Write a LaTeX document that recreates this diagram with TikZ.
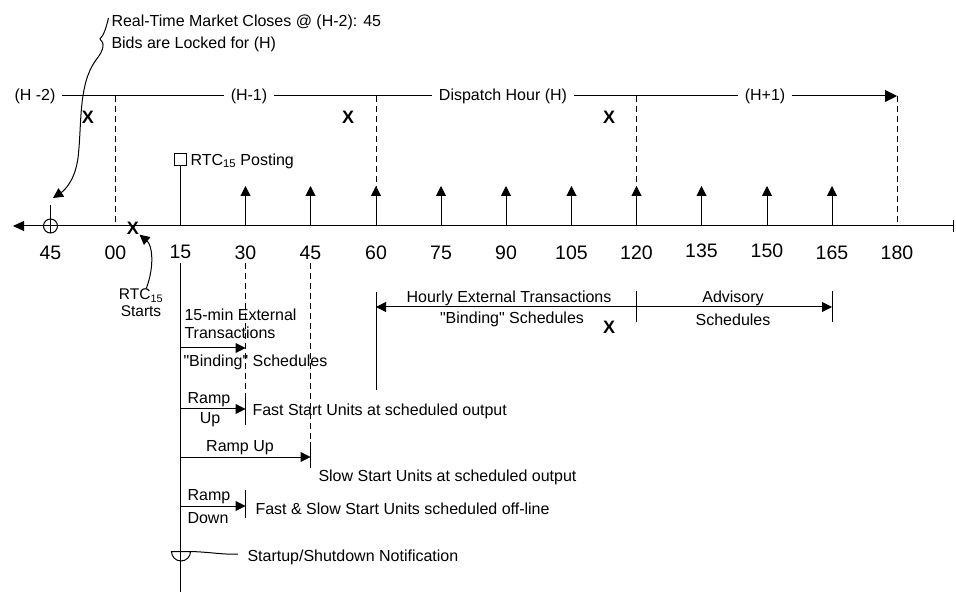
\documentclass[tikz,border=0pt]{standalone}
\usepackage{fontspec}
\setmainfont{Liberation Sans}
\usetikzlibrary{arrows.meta}

\begin{document}
\begin{tikzpicture}[x=1pt,y=-1pt,line width=1pt,
every node/.style={inner sep=0pt,font=\fontsize{16}{19}\selectfont},
arr/.style={-{Triangle[length=10pt,width=10pt]}},
ticklbl/.style={font=\fontsize{19.5}{22}\selectfont},
xmark/.style={font=\fontsize{18}{20}\selectfont\bfseries},
hourlbl/.style={inner sep=6pt},
dsh/.style={dash pattern=on 6pt off 4pt},
twoline/.style={align=center,font=\fontsize{15.5}{17}\selectfont}]
\useasboundingbox (0,0) rectangle (956,593);
\coordinate (axl) at (13,226);
\coordinate (axr) at (953,226);
\coordinate (m45) at (50.5,226);
\coordinate (t00) at (115.5,226);
\coordinate (t15) at (180.5,226);
\coordinate (t30) at (245.5,226);
\coordinate (t45) at (310.5,226);
\coordinate (t60) at (376,226);
\coordinate (t75) at (441,226);
\coordinate (t90) at (506,226);
\coordinate (t105) at (571.5,226);
\coordinate (t120) at (636.5,226);
\coordinate (t135) at (701.5,226);
\coordinate (t150) at (767,226);
\coordinate (t165) at (832,226);
\coordinate (t180) at (897,226);
\draw [{Triangle[length=11pt,width=10pt]}-] (axl) -- (axr);
\draw ([yshift=6pt]axr) -- ([yshift=-6pt]axr);
\node [ticklbl] (l45) at (50.5,253) {45};
\node [ticklbl] (l00) at (115.5,253) {00};
\node [ticklbl] (l15) at (180.5,252) {15};
\node [ticklbl] (l30) at (245.5,253) {30};
\node [ticklbl] (l45b) at (310.5,253) {45};
\node [ticklbl] (l60) at (376,253) {60};
\node [ticklbl] (l75) at (441,253) {75};
\node [ticklbl] (l90) at (506,253) {90};
\node [ticklbl] (l105) at (571.5,253) {105};
\node [ticklbl] (l120) at (636.5,253) {120};
\node [ticklbl] (l135) at (701.5,251) {135};
\node [ticklbl] (l150) at (767,251) {150};
\node [ticklbl] (l165) at (832,253) {165};
\node [ticklbl] (l180) at (897,253) {180};
\coordinate (uptop) at (0,186);
\draw [arr] (t30) -- (t30 |- uptop);
\draw [arr] (t45) -- (t45 |- uptop);
\draw [arr] (t60) -- (t60 |- uptop);
\draw [arr] (t75) -- (t75 |- uptop);
\draw [arr] (t90) -- (t90 |- uptop);
\draw [arr] (t105) -- (t105 |- uptop);
\draw [arr] (t120) -- (t120 |- uptop);
\draw [arr] (t135) -- (t135 |- uptop);
\draw [arr] (t150) -- (t150 |- uptop);
\draw [arr] (t165) -- (t165 |- uptop);
\node [draw,minimum size=12pt] (post) at (180.5,160) {};
\draw (t15) -- (post);
\node [anchor=west] (postlbl) at (190,161) {RTC\textsubscript{15} Posting};
\node [draw,circle,minimum size=14pt] (close) at (m45) {};
\coordinate (closetop) at (50.5,205);
\draw (closetop) -- (close.south);
\node [anchor=west,align=left,font=\fontsize{16}{22}\selectfont] (mkt) at (111,33) {Real-Time Market Closes @ (H-2): 45\\Bids are Locked for (H)};
\coordinate (brace) at (108.5,18);
\coordinate (closetip) at (53,198);
\draw [arr] (brace) .. controls (106,28) and (104,35) .. (100,39) .. controls (105,43) and (104,50) .. (96,60) .. controls (78,84) and (82,125) .. (78,158) .. controls (75,180) and (65,190) .. (closetip);
\node [hourlbl] (hm2) at (35,96) {(H -2)};
\node [hourlbl] (hm1) at (249,96) {(H-1)};
\node [hourlbl] (hd) at (503,96) {Dispatch Hour (H)};
\node [hourlbl] (hp1) at (765,96) {(H+1)};
\coordinate (hend) at (897,96);
\draw (hm2) -- (hm1);
\draw (hm1) -- (hd);
\draw (hd) -- (hp1);
\draw [-{Triangle[length=12pt,width=12pt]}] (hp1) -- (hend);
\draw [dsh] (t00 |- hm2) -- (t00);
\draw [dsh] (t60 |- hm2) -- (t60);
\draw [dsh] (t120 |- hm2) -- (t120);
\draw [dsh] (t180 |- hm2) -- (t180);
\node [xmark] (x1) at (88,117) {X};
\node [xmark] (x2) at (348,117) {X};
\node [xmark] (x3) at (609,117) {X};
\node [xmark] (x0) at (133,228) {X};
\node [xmark] (x4) at (609,327) {X};
\node [twoline] (starts) at (141,303) {RTC\textsubscript{15}\\Starts};
\draw [arr] (starts.70) .. controls (155,265) and (152,245) .. (x0.south east);
\coordinate (below) at (0,263);
\coordinate (bottom) at (0,592);
\draw (t15 |- below) -- (t15 |- bottom);
\coordinate (hx1) at (376,307);
\coordinate (hx2) at (832,307);
\coordinate (hk) at (636.5,307);
\coordinate (hv1) at (376,292);
\coordinate (hv2) at (376,390);
\draw [{Triangle[length=10pt,width=10pt]}-{Triangle[length=10pt,width=10pt]}] (hx1) -- (hx2);
\draw ([yshift=15.5pt]hk) -- ([yshift=-15.5pt]hk);
\draw ([yshift=15.5pt]hx2) -- ([yshift=-15.5pt]hx2);
\draw (hv1) -- (hv2);
\node (hourly) at (509,298) {Hourly External Transactions};
\node (hbind) at (512,319) {\textquotedbl Binding\textquotedbl{} Schedules};
\node (adv) at (733,298) {Advisory};
\node (advs) at (733,320) {Schedules};
\coordinate (ft1) at (180.5,348);
\coordinate (ft2) at (245.5,348);
\draw [arr] (ft1) -- (ft2);
\node [anchor=west] (ft) at (184,315) {15-min External};
\node [anchor=west] (ftr) at (184,333) {Transactions};
\node [anchor=west] (ftb) at (183,362) {\textquotedbl Binding\textquotedbl{} Schedules};
\coordinate (fs1) at (180.5,409);
\coordinate (fs2) at (245.5,409);
\draw [dsh] (t30 |- below) -- (fs2);
\draw [arr] (fs1) -- (fs2);
\draw ([yshift=12pt]fs2) -- ([yshift=-16pt]fs2);
\node (fsr) at (209,400) {Ramp};
\node (fsu) at (210,420) {Up};
\node [anchor=west] (fst) at (252,411) {Fast Start Units at scheduled output};
\coordinate (ss1) at (180.5,457);
\coordinate (ss2) at (310.5,457);
\draw [dsh] (t45 |- below) -- (ss2);
\draw [arr] (ss1) -- (ss2);
\draw ([yshift=15pt]ss2) -- ([yshift=-11pt]ss2);
\node (ssr) at (240,448) {Ramp Up};
\node [anchor=west] (sst) at (318,477) {Slow Start Units at scheduled output};
\coordinate (rd1) at (180.5,506);
\coordinate (rd2) at (245.5,506);
\draw [arr] (rd1) -- (rd2);
\draw ([yshift=16pt]rd2) -- ([yshift=-12pt]rd2);
\node (rdr) at (209,497) {Ramp};
\node (rdd) at (208,518) {Down};
\node [anchor=west] (rdt) at (255,509) {Fast \& Slow Start Units scheduled off-line};
\node [anchor=west] (notif) at (247,557) {Startup/Shutdown Notification};
\coordinate (cupr) at (190.5,551.5);
\coordinate (nl) at (238,554);
\draw (cupr) arc [start angle=0,end angle=180,radius=9.5] -- cycle;
\draw (cupr) .. controls (210,552) and (225,555) .. (nl);
\end{tikzpicture}
\end{document}
